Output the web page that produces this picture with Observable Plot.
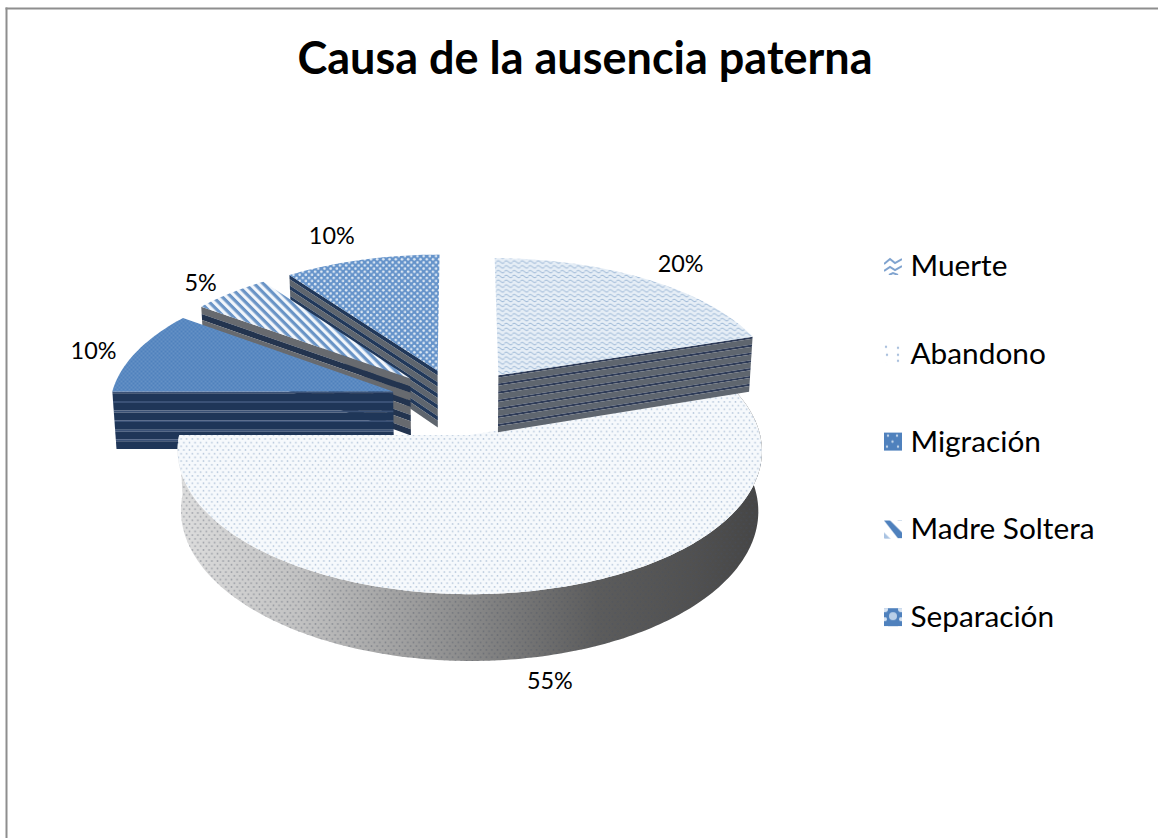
<!DOCTYPE html>
<html><head><meta charset="utf-8">
<script src="https://cdn.jsdelivr.net/npm/d3@7"></script>
<script src="https://cdn.jsdelivr.net/npm/@observablehq/plot@0.6"></script>
<style>html,body{margin:0;padding:0;background:#fff}svg{display:block}</style>
</head><body><div id="chart"></div>
<script>
// Data
const categories = ["Muerte", "Abandono", "Migración", "Madre Soltera", "Separación"];
const shares = [20, 55, 10, 5, 10];
const chartTitle = "Causa de la ausencia paterna";

// Projection of the tilted, exploded pie
const view = {cx: 458, cy: 401, rx: 283, ry: 134.7, persp: 0.106, depth: 58, lean: 0.012, explode: 0.245};
const labelNudge = [[35, -14], [28, 90], [-43, 0], [-30, -10], [-30, -23]];
const FONT = "Lato, Carlito, Calibri, sans-serif";

const rad = d => d * Math.PI / 180;
const total = d3.sum(shares);
let acc = 0;
const slices = categories.map((name, i) => {
  const a0 = acc / total * 360; acc += shares[i];
  const a1 = acc / total * 360;
  return {name, i, value: shares[i], a0, a1, mid: (a0 + a1) / 2};
});
function project(s, theta, r, f = 0) {
  const u = r * Math.sin(rad(theta)) + view.explode * Math.sin(rad(s.mid));
  const v = r * Math.cos(rad(theta)) + view.explode * Math.cos(rad(s.mid));
  const w = 1 + view.persp * v;
  const X = view.rx * u / w, Y = view.ry * v / w;
  return {x: view.cx + X * (1 - view.lean * f), y: view.cy - Y + f * view.depth / w};
}
const arcAngles = s => d3.range(s.a0, s.a1, 1).concat(s.a1);
const topFace = s => [project(s, s.a0, 0), ...arcAngles(s).map(a => project(s, a, 1))];
function strip(fn, n, f0, f1) {
  const ts = d3.range(n + 1).map(k => k / n);
  return [...ts.map(t => fn(t, f0)), ...ts.slice().reverse().map(t => fn(t, f1))];
}
const sideBands = [
  {periods: 7, a: "#2e3b57", b: "#5f666f", share: 0.27},
  null,
  {periods: 6, a: "#3a5176", b: "#1f3658", share: 0.2},
  {periods: 4, a: "#676a6f", b: "#23344f", share: 0.55},
  {periods: 5, a: "#21385a", b: "#5e656e", share: 0.4}
];
const topFill = ["url(#pMuerte)", "url(#pAbandono)", "url(#pMigracion)", "url(#pMadre)", "url(#pSeparacion)"];
const legendFill = ["url(#lMuerte)", "url(#lAbandono)", "url(#lMigracion)", "url(#lMadre)", "url(#lSeparacion)"];

const poly = (pts, fill) => Plot.line(pts, {x: "x", y: "y", fill, stroke: "none", curve: "linear"});

function banded(s, fn, n) {
  const b = sideBands[s.i], out = [];
  for (let p = 0; p < b.periods; ++p) {
    const f = p / b.periods, g = (p + b.share) / b.periods, h = (p + 1) / b.periods;
    out.push(poly(strip(fn, n, f, g), b.a), poly(strip(fn, n, g, h), b.b));
  }
  return out;
}
function sliceMarks(s) {
  const arc = (t, f) => project(s, s.a0 + (s.a1 - s.a0) * t, 1, f);
  const edge0 = (t, f) => project(s, s.a0, t, f);
  const edge1 = (t, f) => project(s, s.a1, t, f);
  const marks = [];
  if (s.i === 1) {
    const n = Math.round(s.a1 - s.a0);
    marks.push(poly(strip(arc, n, 0, 1), "url(#sideShade)"), poly(strip(arc, n, 0, 1), "url(#sideDots)"));
  } else if (s.i === 0) {
    // only the radial wall facing the viewer shows
    marks.push(...banded(s, edge1, 1));
  } else {
    marks.push(...banded(s, edge0, 1));
  }
  marks.push(poly(topFace(s), topFill[s.i]));
  return marks;
}

// Pattern definitions, rendered as a mark
function defs() {
  const d = d3.create("svg:defs");
  const pat = (id, w, h, bg, extra = {}) => {
    const p = d.append("pattern").attr("id", id).attr("patternUnits", "userSpaceOnUse")
      .attr("width", w).attr("height", h);
    if (extra.transform) p.attr("patternTransform", extra.transform);
    if (bg) p.append("rect").attr("width", w).attr("height", h).attr("fill", bg);
    return p;
  };
  const dot = (p, x, y, r, c) => p.append("circle").attr("cx", x).attr("cy", y).attr("r", r).attr("fill", c);

  const m = pat("pMuerte", 8, 4.8, "#e6eef6");
  m.append("path").attr("d", "M-2 2.8 L2 1 L6 3.8 L10 1.8").attr("fill", "none").attr("stroke", "#8fadd0").attr("stroke-width", .9);

  const ab = pat("pAbandono", 5.6, 7.4, "#f6f9fc");
  dot(ab, 1.4, 1.8, .85, "#b4c5da"); dot(ab, 4.2, 5.5, .85, "#b4c5da");

  const mi = pat("pMigracion", 4, 4, "#4f81bd");
  dot(mi, 1, 1, .65, "#8fb0d6"); dot(mi, 3, 3, .65, "#8fb0d6");

  const ma = pat("pMadre", 6.4, 6.4, "#f2f6fb", {transform: "rotate(45)"});
  ma.append("rect").attr("width", 6.4).attr("height", 3.2).attr("fill", "#6a94c6");

  const se = pat("pSeparacion", 6.2, 6.2, "#6593ca");
  dot(se, 1.55, 1.55, 1.3, "#dce7f3"); dot(se, 4.65, 4.65, 1.3, "#dce7f3");

  const g = d.append("linearGradient").attr("id", "sideShade").attr("gradientUnits", "userSpaceOnUse")
    .attr("x1", view.cx - view.rx).attr("x2", view.cx + view.rx + 20).attr("y1", 0).attr("y2", 0);
  [[0, "#dedede"], [.21, "#c2c2c2"], [.38, "#a2a2a2"], [.5, "#8a8a8a"], [.64, "#6c6c6c"], [.72, "#5c5c5c"], [.89, "#505050"], [1, "#454545"]]
    .forEach(([o, c]) => g.append("stop").attr("offset", o).attr("stop-color", c));
  const sd = pat("sideDots", 5.6, 7.4, null);
  dot(sd, 1.4, 1.8, .95, "rgba(70,80,95,.38)"); dot(sd, 4.2, 5.5, .95, "rgba(70,80,95,.38)");

  // Legend keys: a single enlarged tile per swatch
  const key = (id, bg) => {
    const p = d.append("pattern").attr("id", id).attr("patternUnits", "objectBoundingBox")
      .attr("width", 1).attr("height", 1).attr("patternContentUnits", "userSpaceOnUse");
    p.append("rect").attr("width", 18).attr("height", 18).attr("fill", bg);
    return p;
  };
  const lm = key("lMuerte", "#fff");
  ["M0 7 L6 2 L11 6 L18 2", "M0 14 L6 10 L11 13 L18 9", "M5 18 L9 16 L14 18"].forEach(q =>
    lm.append("path").attr("d", q).attr("fill", "none").attr("stroke", "#7fa3cf").attr("stroke-width", 2));
  const la = key("lAbandono", "#fff");
  [[2, 2], [14, 3], [3, 10], [14, 10], [14, 16]].forEach(([x, y]) => dot(la, x, y, 1.2, "#a9c0de"));
  const li = key("lMigracion", "#4f81bd");
  [[4, 3], [13, 3], [8.5, 9], [3, 14], [14, 14]].forEach(([x, y]) => dot(li, x, y, 1.2, "#c3d5ea"));
  const lr = key("lMadre", "#fff");
  lr.append("path").attr("d", "M0 0 L6 0 L18 12 L18 18 L14 18 Z").attr("fill", "#4f81bd");
  lr.append("path").attr("d", "M0 12 L6 18 L0 18 Z").attr("fill", "#a9c3e2");
  const ls = key("lSeparacion", "#4f81bd");
  [[1, 1], [17, 1]].forEach(([x, y]) => dot(ls, x, y, 3, "#d8e4f2"));
  dot(ls, 9, 8, 4, "#b9cfe8");
  dot(ls, 1, 11, 2, "#d8e4f2"); dot(ls, 17, 11, 2, "#d8e4f2");
  return d.node();
}

// Percent labels
const labelMarks = slices.map(s => {
  const p = project(s, s.mid, 1);
  return Plot.text([`${s.value}%`], {
    x: () => p.x, y: () => p.y, text: d => d, dx: labelNudge[s.i][0], dy: labelNudge[s.i][1],
    fontSize: 23.4, fontFamily: FONT, fill: "#000", textAnchor: "middle", lineAnchor: "middle"
  });
});

// Legend
const legend = {x: 884, top: 257, step: 87.8, key: 18, gap: 8, font: 29.8};
const legendMarks = slices.flatMap(s => {
  const y0 = legend.top + s.i * legend.step;
  return [
    Plot.rect([s.name], {x1: () => legend.x, x2: () => legend.x + legend.key, y1: () => y0, y2: () => y0 + legend.key,
      fill: legendFill[s.i], stroke: "none"}),
    Plot.text([s.name], {x: () => legend.x + legend.key + legend.gap, y: () => y0 + legend.key / 2, text: d => d,
      fontSize: legend.font, fontFamily: FONT, fill: "#000", textAnchor: "start", lineAnchor: "middle"})
  ];
});

const order = [4, 3, 2, 1, 0];
const chart = Plot.plot({
  width: 1158, height: 838,
  marginLeft: 6, marginTop: 8, marginRight: 0, marginBottom: 0,
  style: {background: "#fff", overflow: "visible"},
  x: {type: "identity", axis: null},
  y: {type: "identity", axis: null},
  marks: [
    defs,
    Plot.frame({anchor: "left", stroke: "#8e8e8e", strokeWidth: 2}),
    Plot.frame({anchor: "top", stroke: "#8e8e8e", strokeWidth: 2}),
    ...order.flatMap(i => sliceMarks(slices[i])),
    ...labelMarks,
    ...legendMarks,
    Plot.text([chartTitle], {frameAnchor: "top", dx: 2.5, dy: 33.5, text: d => d, fontSize: 45, fontWeight: 700,
      fontFamily: FONT, fill: "#000", lineAnchor: "top"})
  ]
});
document.getElementById("chart").appendChild(chart);
</script></body></html>
